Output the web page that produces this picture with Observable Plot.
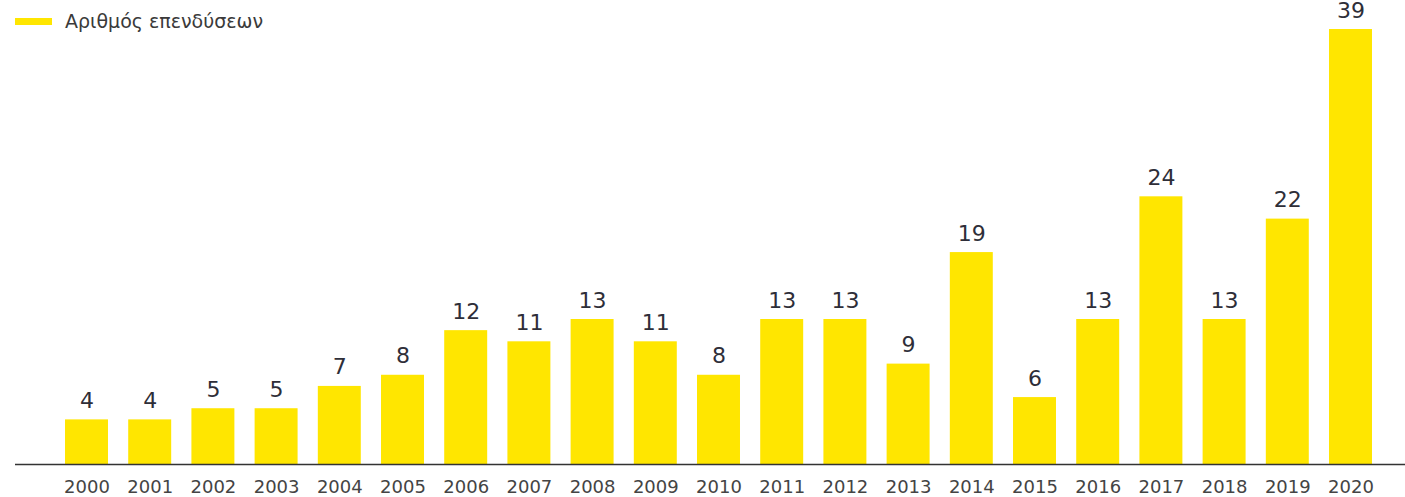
<!DOCTYPE html>
<html>
<head>
<meta charset="utf-8">
<script src="https://cdn.jsdelivr.net/npm/d3@7"></script>
<script src="https://cdn.jsdelivr.net/npm/@observablehq/plot@0.6"></script>
<style>
  html, body { margin: 0; padding: 0; background: #fff; }
  #wrap { position: relative; width: 1405px; height: 497px; overflow: hidden; }
  #legend { position: absolute; left: 15px; top: 10px; display: flex; align-items: center;
    font-family: "DejaVu Sans", Verdana, sans-serif; font-size: 19px; color: #3a3a3a; }
  #legend .sw { width: 37px; height: 7px; background: #FFE600; margin-right: 13px; }
</style>
</head>
<body>
<div id="wrap">
  <div id="chart"></div>
  <div id="legend"><span class="sw"></span><span>Αριθμός επενδύσεων</span></div>
</div>
<script>
const years = ["2000","2001","2002","2003","2004","2005","2006","2007","2008","2009","2010",
               "2011","2012","2013","2014","2015","2016","2017","2018","2019","2020"];
const investments = [4,4,5,5,7,8,12,11,13,11,8,13,13,9,19,6,13,24,13,22,39];
const seriesName = "Αριθμός επενδύσεων";

const data = years.map((y, i) => ({year: y, value: investments[i]}));

const chart = Plot.plot({
  width: 1405,
  height: 497,
  marginTop: 29,
  marginBottom: 33,
  marginLeft: 15,
  marginRight: 0,
  style: {fontFamily: "'DejaVu Sans', Verdana, sans-serif", background: "#fff"},
  x: {domain: years, range: [54.9, 1382.1], padding: 0.32, paddingOuter: 0.16, round: false, label: null},
  y: {domain: [0, 39], axis: null},
  marks: [
    Plot.barY(data, {x: "year", y: "value", fill: "#FFE600"}),
    Plot.text(data, {x: "year", y: "value", text: d => String(d.value), dy: -19,
      fontSize: 22, fill: "#2e2e38"}),
    Plot.ruleY([0], {stroke: "#333", strokeWidth: 1.5}),
    Plot.axisX({tickSize: 0, tickPadding: 16, fontSize: 18, color: "#444", label: null})
  ]
});
document.getElementById("chart").append(chart);
</script>
</body>
</html>
